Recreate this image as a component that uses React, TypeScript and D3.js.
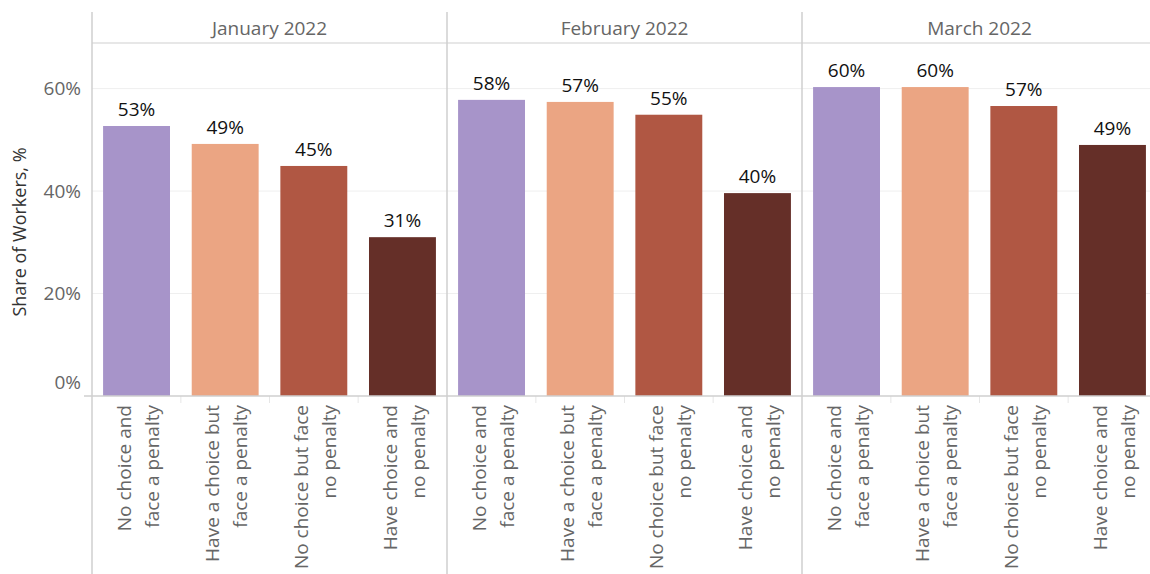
import React from "react";
import * as d3 from "d3";

const months = ["January 2022", "February 2022", "March 2022"];
const categories = [
  ["No choice and", "face a penalty"],
  ["Have a choice but", "face a penalty"],
  ["No choice but face", "no penalty"],
  ["Have choice and", "no penalty"],
];
const janValues = [52.7, 49.2, 44.9, 31];
const febValues = [57.8, 57.4, 54.9, 39.6];
const marValues = [60.3, 60.3, 56.6, 49];
const seriesValues = [janValues, febValues, marValues];
const colors = ["#a794c9", "#eba583", "#b05743", "#652f28"];
const yTicks = [0, 20, 40, 60];

const W = 1150;
const H = 574;
const left = 92;
const panelW = 355;
const headerTop = 12;
const headerBottom = 43;
const baseY = 396;
const FONT = "'Open Sans', sans-serif";

export default function App() {
  const y = d3.scaleLinear().domain([0, 68.9]).range([baseY, headerBottom]);
  const panelScale = d3.scaleBand<string>().domain(months).range([left, left + panelW * 3]);
  const x = d3.scaleBand<number>().domain([0, 1, 2, 3]).range([0, panelW]).paddingInner(0.245).paddingOuter(0.125);

  return (
    <svg width={W} height={H} style={{ position: "absolute", left: 0, top: 0, background: "#fff" }} fontFamily={FONT}>
      {yTicks.filter((t) => t > 0).map((t) => (
        <line key={t} x1={left} x2={W} y1={y(t)} y2={y(t)} stroke="#efefef" strokeWidth={1} />
      ))}
      <line x1={left} x2={W} y1={headerBottom} y2={headerBottom} stroke="#cfcfcf" />
      {yTicks.map((t) => (
        <text key={t} x={81} y={t === 0 ? y(t) - 14 : y(t)} dy="0.35em" textAnchor="end" fontSize={19} fill="#666">
          {t}%
        </text>
      ))}
      <text transform={`translate(20,232) rotate(-90)`} textAnchor="middle" fontSize={18} fill="#333" dy="0.35em">
        Share of Workers, %
      </text>
      {months.map((m, mi) => {
        const px = panelScale(m)!;
        const vals = seriesValues[mi];
        return (
          <g key={m}>
            <text x={px + panelW / 2} y={(headerTop + headerBottom) / 2 + 1} dy="0.35em" textAnchor="middle" fontSize={19} fill="#666">
              {m}
            </text>
            {vals.map((v, i) => {
              const bx = px + x(i)!;
              const cx = bx + x.bandwidth() / 2;
              return (
                <g key={i}>
                  <rect x={bx} y={y(v)} width={x.bandwidth()} height={baseY - y(v)} fill={colors[i]} />
                  <text x={cx} y={y(v) - 10} textAnchor="middle" fontSize={19} fill="#111">
                    {Math.round(v)}%
                  </text>
                  <text transform={`translate(${cx},${baseY + 9}) rotate(-90)`} textAnchor="end" fontSize={19} fill="#666">
                    <tspan x={0} dy="-0.3em">{categories[i][0]}</tspan>
                    <tspan x={0} dy="1.47em">{categories[i][1]}</tspan>
                  </text>
                  {i > 0 && (
                    <line x1={px + x(i)! - (x.step() - x.bandwidth()) / 2} x2={px + x(i)! - (x.step() - x.bandwidth()) / 2} y1={baseY} y2={baseY + 7} stroke="#e6e6e6" />
                  )}
                </g>
              );
            })}
          </g>
        );
      })}
      {[0, 1, 2, 3].map((k) => (
        <line key={k} x1={left + panelW * k} x2={left + panelW * k} y1={headerTop} y2={H} stroke="#cfcfcf" strokeWidth={1.5} />
      ))}
      <line x1={84} x2={W} y1={baseY} y2={baseY} stroke="#cfcfcf" strokeWidth={1.5} />
    </svg>
  );
}
